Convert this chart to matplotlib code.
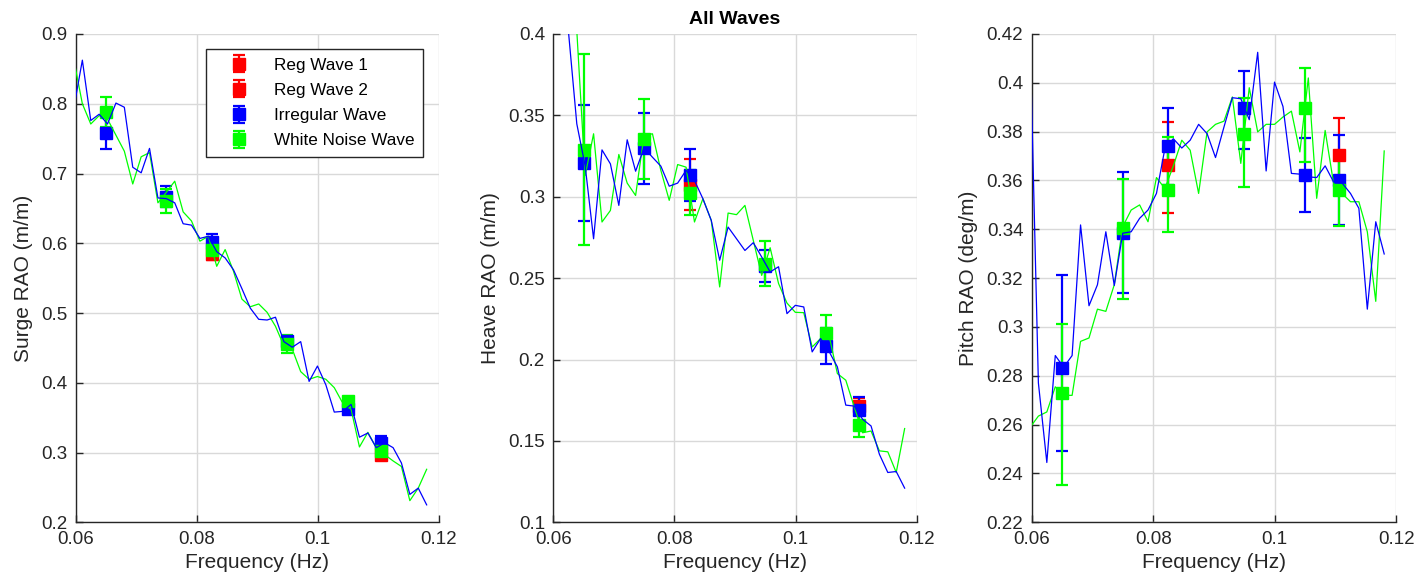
import matplotlib
matplotlib.use("Agg")
import matplotlib.pyplot as plt
from matplotlib.ticker import FuncFormatter

plt.rcParams['font.family'] = ['Liberation Sans', 'DejaVu Sans']

# ---- frequency grid of the spectral lines (Hz) ----
freq_line = [0.05971, 0.0611, 0.06249, 0.06388, 0.06526, 0.06665, 0.06804, 0.06943,
             0.07082, 0.07220, 0.07359, 0.07498, 0.07637, 0.07776, 0.07914, 0.08053,
             0.08192, 0.08331, 0.08470, 0.08608, 0.08747, 0.08886, 0.09025, 0.09164,
             0.09302, 0.09441, 0.09580, 0.09719, 0.09858, 0.09996, 0.10135, 0.10274,
             0.10413, 0.10552, 0.10690, 0.10829, 0.10968, 0.11107, 0.11246, 0.11384,
             0.11523, 0.11662, 0.11801]

# ---- Surge ----
surge_irr_line = [0.795, 0.8625, 0.776, 0.785, 0.771, 0.801, 0.795, 0.709, 0.701, 0.736,
                  0.665, 0.664, 0.658, 0.628, 0.626, 0.607, 0.610, 0.588, 0.579, 0.562,
                  0.535, 0.507, 0.491, 0.490, 0.494, 0.459, 0.451, 0.459, 0.402, 0.424,
                  0.397, 0.358, 0.359, 0.369, 0.322, 0.328, 0.307, 0.314, 0.307, 0.285,
                  0.240, 0.249, 0.225]
surge_wn_line = [0.862, 0.800, 0.771, 0.783, 0.778, 0.755, 0.732, 0.685, 0.724, 0.730,
                 0.658, 0.673, 0.689, 0.645, 0.632, 0.603, 0.610, 0.567, 0.591, 0.560,
                 0.520, 0.509, 0.513, 0.501, 0.481, 0.453, 0.448, 0.416, 0.405, 0.409,
                 0.405, 0.393, 0.371, 0.362, 0.308, 0.329, 0.307, 0.297, 0.288, 0.280,
                 0.231, 0.249, 0.276]

# ---- Heave ----
heave_irr_line = [0.500, 0.450, 0.402, 0.3448, 0.319, 0.2742, 0.3288, 0.3202, 0.2947, 0.335,
                  0.3157, 0.330, 0.3243, 0.3188, 0.3065, 0.3084, 0.3162, 0.310, 0.2988, 0.2855,
                  0.261, 0.2814, 0.2742, 0.267, 0.2718, 0.263, 0.2538, 0.257, 0.2282, 0.2333,
                  0.2323, 0.2047, 0.2129, 0.205, 0.1955, 0.172, 0.1714, 0.1633, 0.1592, 0.1418,
                  0.1306, 0.1312, 0.121]
heave_wn_line = [0.500, 0.470, 0.440, 0.402, 0.313, 0.3387, 0.2845, 0.2916, 0.326, 0.3084,
                 0.3008, 0.3376, 0.3387, 0.3162, 0.2978, 0.3198, 0.3182, 0.2845, 0.2988, 0.2855,
                 0.2446, 0.290, 0.289, 0.2947, 0.2732, 0.2517, 0.2687, 0.2467, 0.2347, 0.229,
                 0.2288, 0.2077, 0.2129, 0.215, 0.1914, 0.1873, 0.171, 0.155, 0.1561, 0.1439,
                 0.1433, 0.1306, 0.1576]

# ---- Pitch ----
pitch_irr_line = [0.420, 0.2771, 0.2445, 0.2883, 0.2835, 0.2883, 0.3418, 0.3087, 0.3173, 0.339,
                  0.317, 0.3384, 0.339, 0.3445, 0.3479, 0.3547, 0.3731, 0.3771, 0.3733, 0.3765,
                  0.383, 0.3792, 0.3694, 0.3819, 0.3939, 0.3935, 0.3849, 0.4125, 0.3639, 0.4003,
                  0.3903, 0.3629, 0.3626, 0.3615, 0.3612, 0.366, 0.3594, 0.359, 0.3547, 0.3486,
                  0.3073, 0.3431, 0.3299]
pitch_wn_line = [0.2588, 0.2635, 0.2652, 0.2755, 0.272, 0.272, 0.2941, 0.2955, 0.3073, 0.3064,
                 0.3173, 0.3411, 0.3479, 0.350, 0.3431, 0.3612, 0.3567, 0.366, 0.3765, 0.3724,
                 0.3547, 0.3799, 0.383, 0.3843, 0.3942, 0.367, 0.398, 0.3799, 0.383, 0.383,
                 0.386, 0.3884, 0.3717, 0.402, 0.3527, 0.3805, 0.3588, 0.3547, 0.3513, 0.3513,
                 0.339, 0.3105, 0.3721]

# ---- test points with error bars ----
freq_pts = [0.065, 0.075, 0.0825, 0.095, 0.105, 0.1105]
freq_reg1 = [0.0825]
freq_reg2 = [0.1105]

surge_reg1, surge_reg1_err = [0.585], [0.009]
surge_reg2, surge_reg2_err = [0.296], [0.004]
surge_irr = [0.758, 0.667, 0.602, 0.4605, 0.362, 0.313]
surge_irr_err = [0.023, 0.015, 0.011, 0.007, 0.004, 0.010]
surge_wn = [0.788, 0.661, 0.591, 0.455, 0.3735, 0.302]
surge_wn_err = [0.021, 0.017, 0.010, 0.013, 0.005, 0.006]

heave_reg1, heave_reg1_err = [0.3073], [0.0157]
heave_reg2, heave_reg2_err = [0.1715], [0.005]
heave_irr = [0.3205, 0.3297, 0.3135, 0.2575, 0.2082, 0.169]
heave_irr_err = [0.0356, 0.0216, 0.016, 0.010, 0.011, 0.008]
heave_wn = [0.329, 0.3356, 0.3025, 0.259, 0.2163, 0.1596]
heave_wn_err = [0.0585, 0.0247, 0.014, 0.0138, 0.0108, 0.0075]

pitch_reg1, pitch_reg1_lo, pitch_reg1_hi = [0.3665], [0.020], [0.0175]
pitch_reg2, pitch_reg2_lo, pitch_reg2_hi = [0.3705], [0.0145], [0.015]
pitch_irr = [0.283, 0.3384, 0.374, 0.3898, 0.3622, 0.3604]
pitch_irr_lo = [0.0337, 0.0243, 0.016, 0.0167, 0.0152, 0.0186]
pitch_irr_hi = [0.0384, 0.0251, 0.0158, 0.0152, 0.0154, 0.0181]
pitch_wn = [0.2728, 0.3407, 0.356, 0.3789, 0.3897, 0.3563]
pitch_wn_lo = [0.0376, 0.0291, 0.017, 0.0215, 0.0221, 0.0149]
pitch_wn_hi = [0.0286, 0.0201, 0.0218, 0.0148, 0.0163, 0.015]

labels = ["Reg Wave 1", "Reg Wave 2", "Irregular Wave", "White Noise Wave"]
xticks = [0.06, 0.08, 0.1, 0.12]

RED, BLUE, GREEN = (1, 0, 0), (0, 0, 1), (0, 1, 0)
TXT = (0.15, 0.15, 0.15)

fig = plt.figure(figsize=(14.16, 5.87), dpi=100)
W, H = 1416, 587
lefts = [75.7, 553.3, 1031.7]
rights = [438.7, 916.7, 1396.3]
top, bottom = 34.0, 522.3

panels = [
    dict(irr_line=surge_irr_line, wn_line=surge_wn_line,
         reg1=(surge_reg1, surge_reg1_err), reg2=(surge_reg2, surge_reg2_err),
         irr=(surge_irr, surge_irr_err), wn=(surge_wn, surge_wn_err),
         ylim=(0.2, 0.9), yticks=[0.2, 0.3, 0.4, 0.5, 0.6, 0.7, 0.8, 0.9],
         ylabel="Surge RAO (m/m)", title=None, legend=True),
    dict(irr_line=heave_irr_line, wn_line=heave_wn_line,
         reg1=(heave_reg1, heave_reg1_err), reg2=(heave_reg2, heave_reg2_err),
         irr=(heave_irr, heave_irr_err), wn=(heave_wn, heave_wn_err),
         ylim=(0.1, 0.4), yticks=[0.1, 0.15, 0.2, 0.25, 0.3, 0.35, 0.4],
         ylabel="Heave RAO (m/m)", title="All Waves", legend=False),
    dict(irr_line=pitch_irr_line, wn_line=pitch_wn_line,
         reg1=(pitch_reg1, [pitch_reg1_lo, pitch_reg1_hi]),
         reg2=(pitch_reg2, [pitch_reg2_lo, pitch_reg2_hi]),
         irr=(pitch_irr, [pitch_irr_lo, pitch_irr_hi]),
         wn=(pitch_wn, [pitch_wn_lo, pitch_wn_hi]),
         ylim=(0.22, 0.42), yticks=[0.22, 0.24, 0.26, 0.28, 0.3, 0.32, 0.34, 0.36, 0.38, 0.4, 0.42],
         ylabel="Pitch RAO (deg/m)", title=None, legend=False),
]

fmt = FuncFormatter(lambda v, p: "%g" % round(v, 4))
eb_kw = dict(fmt='s', markersize=8, elinewidth=1.6, capsize=4.3, capthick=1.6,
             linestyle='none', zorder=3)

for i, p in enumerate(panels):
    ax = fig.add_axes([lefts[i] / W, 1 - bottom / H, (rights[i] - lefts[i]) / W, (bottom - top) / H])
    h1 = ax.errorbar(freq_reg1, p['reg1'][0], yerr=p['reg1'][1], color=RED, label=labels[0], **eb_kw)
    h2 = ax.errorbar(freq_reg2, p['reg2'][0], yerr=p['reg2'][1], color=RED, label=labels[1], **eb_kw)
    h3 = ax.errorbar(freq_pts, p['irr'][0], yerr=p['irr'][1], color=BLUE, label=labels[2], **eb_kw)
    h4 = ax.errorbar(freq_pts, p['wn'][0], yerr=p['wn'][1], color=GREEN, label=labels[3], **eb_kw)
    ax.plot(freq_line, p['wn_line'], color=GREEN, lw=0.9, zorder=4)
    ax.plot(freq_line, p['irr_line'], color=BLUE, lw=0.9, zorder=4)

    ax.set_xlim(0.06, 0.12)
    ax.set_ylim(*p['ylim'])
    ax.set_xticks(xticks)
    ax.set_yticks(p['yticks'])
    ax.xaxis.set_major_formatter(fmt)
    ax.yaxis.set_major_formatter(fmt)
    ax.grid(True, color=(0.85, 0.85, 0.85), lw=1.0, zorder=0)
    ax.set_axisbelow(True)
    for s in ['top', 'right']:
        ax.spines[s].set_visible(False)
    for s in ['left', 'bottom']:
        ax.spines[s].set_color(TXT)
        ax.spines[s].set_linewidth(1.0)
    ax.tick_params(direction='in', length=5, width=1.0, colors=TXT, labelsize=13.5,
                   labelcolor=TXT, pad=6)
    ax.set_xlabel("Frequency (Hz)", fontsize=15, color=TXT, labelpad=4)
    ax.set_ylabel(p['ylabel'], fontsize=15, color=TXT, labelpad=6)
    if p['title']:
        ax.set_title(p['title'], fontsize=14, fontweight='bold', pad=7)
    if p['legend']:
        leg = ax.legend(handles=[h1, h2, h3, h4], labels=labels, loc='upper right',
                        bbox_to_anchor=(0.957, 0.969), fontsize=12.3, frameon=True,
                        fancybox=False, edgecolor=TXT, framealpha=1, borderpad=0.5,
                        handlelength=2.9, handletextpad=0.58, labelspacing=0.6,
                        borderaxespad=0)
        leg.get_frame().set_linewidth(1.0)

fig.savefig("out.png", dpi=100)
